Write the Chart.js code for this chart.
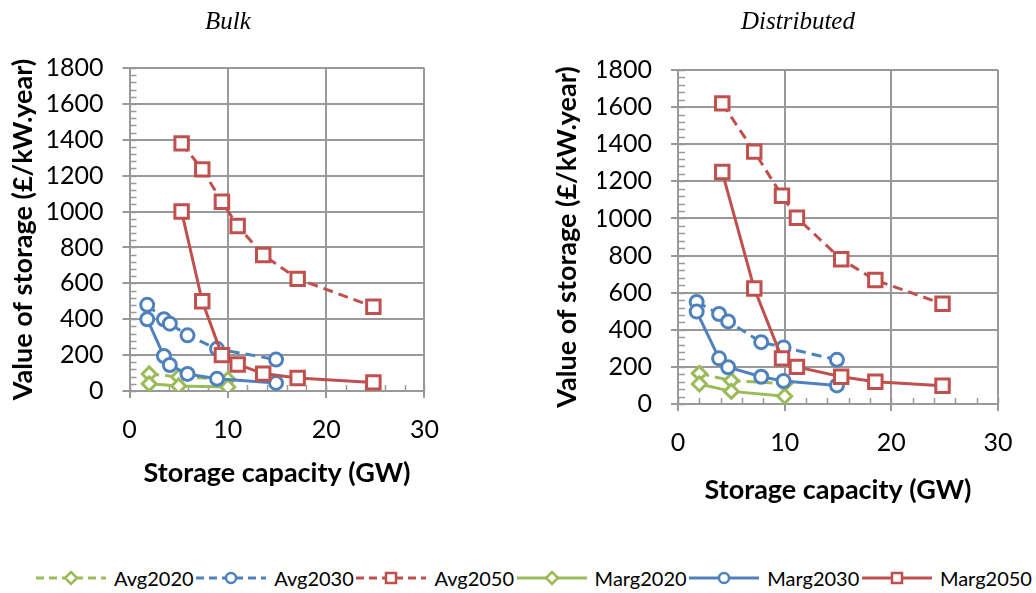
<!DOCTYPE html>
<html>
<head>
<meta charset="utf-8">
<script src="https://cdn.jsdelivr.net/npm/chart.js@4.4.1/dist/chart.umd.min.js"></script>
<style>
  body { margin: 0; background: #fff; width: 1036px; height: 593px; overflow: hidden; position: relative; font-family: Lato, sans-serif; }
  #boxBulk { position: absolute; left: 0; top: 0; width: 456px; height: 500px; }
  #boxDist { position: absolute; left: 540px; top: 0; width: 496px; height: 517px; }
  #legenda { position: absolute; left: 36px; width: 996px; top: 566px; height: 24px; display: flex; justify-content: space-between; align-items: center; font-size: 20px; color: #000; }
  .item { display: flex; align-items: center; }
  .item canvas { margin-right: 8px; }
</style>
</head>
<body>
<div id="boxBulk"><canvas id="graficoBulk"></canvas></div>
<div id="boxDist"><canvas id="graficoDist"></canvas></div>
<div id="legenda"></div>

<script>
// ====== DADOS ======
const seriesNomes = ['Avg2020', 'Avg2030', 'Avg2050', 'Marg2020', 'Marg2030', 'Marg2050'];
const seriesCores = ['#9BBB59', '#4F81BD', '#C0504D', '#9BBB59', '#4F81BD', '#C0504D'];
const seriesTracejada = [true, true, true, false, false, false];
const seriesMarcador = ['rectRot', 'circle', 'rect', 'rectRot', 'circle', 'rect'];

const xTicks = [0, 10, 20, 30];
const yTicks = [0, 200, 400, 600, 800, 1000, 1200, 1400, 1600, 1800];

// Bulk
const bulkCap2020 = [2.0, 5.0, 10.0];
const bulkAvg2020 = [95, 78, 65];
const bulkMarg2020 = [40, 28, 22];
const bulkCap2030 = [1.8, 3.5, 4.1, 5.9, 8.9, 14.9];
const bulkAvg2030 = [480, 400, 375, 310, 235, 175];
const bulkMarg2030 = [400, 195, 145, 95, 68, 45];
const bulkCap2050 = [5.3, 7.4, 9.4, 11.0, 13.6, 17.1, 24.8];
const bulkAvg2050 = [1380, 1235, 1055, 920, 758, 625, 470];
const bulkMarg2050 = [1000, 500, 200, 148, 97, 72, 48];

// Distributed
const distCap2020 = [2.0, 5.0, 10.0];
const distAvg2020 = [165, 126, 110];
const distMarg2020 = [108, 68, 42];
const distCap2030 = [1.75, 3.85, 4.7, 7.8, 9.9, 14.9];
const distAvg2030 = [550, 485, 445, 333, 305, 238];
const distMarg2030 = [498, 246, 198, 147, 124, 100];
const distCap2050 = [4.15, 7.15, 9.75, 11.15, 15.3, 18.5, 24.8];
const distAvg2050 = [1620, 1360, 1122, 1004, 780, 668, 540];
const distMarg2050 = [1250, 622, 246, 200, 147, 120, 98];

const cinza = '#999';
const raioMarcador = { rectRot: 7, circle: 6.5, rect: 9.5 };

// ====== FUNÇÕES ======
function pontos(xs, ys) {
  return xs.map((x, i) => ({ x, y: ys[i] }));
}

function montarDatasets(caps, valores) {
  return seriesNomes.map((nome, i) => ({
    label: nome,
    data: pontos(caps[i], valores[i]),
    showLine: true,
    borderColor: seriesCores[i],
    backgroundColor: '#fff',
    borderWidth: 3,
    borderDash: seriesTracejada[i] ? [10, 6] : [],
    pointStyle: seriesMarcador[i],
    pointRadius: raioMarcador[seriesMarcador[i]],
    pointBorderWidth: 3,
    pointBorderColor: seriesCores[i],
    pointBackgroundColor: '#fff',
    order: 6 - i,
  }));
}

// marcas menores nos eixos (como no Excel)
const minorTicks = {
  id: 'minorTicks',
  beforeDatasetsDraw(chart) {
    const { ctx, chartArea: a, scales: { x, y } } = chart;
    ctx.save();
    ctx.strokeStyle = cinza;
    ctx.lineWidth = 1.5;
    ctx.beginPath();
    for (let v = 0; v <= 1800; v += 40) {
      const py = Math.round(y.getPixelForValue(v)) + 0.5;
      ctx.moveTo(a.left, py);
      ctx.lineTo(a.left + 7, py);
    }
    for (let v = 0; v <= 30; v += 2) {
      const px = Math.round(x.getPixelForValue(v)) + 0.5;
      ctx.moveTo(px, a.bottom);
      ctx.lineTo(px, a.bottom - 6);
    }
    ctx.stroke();
    ctx.restore();
  },
};

function montarGrafico(id, titulo, datasets, cfg) {
  const fonteTick = { family: 'Lato', size: 25 };
  const fonteEixo = { family: 'Lato', size: 27, weight: 'bold' };
  return new Chart(document.getElementById(id), {
    type: 'scatter',
    data: { datasets },
    plugins: [minorTicks],
    options: {
      responsive: true,
      maintainAspectRatio: false,
      animation: false,
      layout: { padding: { left: cfg.padLeft, right: cfg.padRight, top: 0, bottom: 0 } },
      plugins: {
        legend: { display: false },
        tooltip: { enabled: false },
        title: {
          display: true,
          text: titulo,
          color: '#000',
          font: { family: 'Liberation Serif', size: 25, style: 'italic', weight: 'normal' },
          padding: { top: 7, bottom: cfg.titleBottom },
        },
      },
      scales: {
        x: {
          type: 'linear',
          min: 0,
          max: 30,
          afterBuildTicks: s => { s.ticks = xTicks.map(v => ({ value: v })); },
          afterFit: s => { s.height = cfg.xHeight; },
          ticks: { color: '#000', font: fonteTick, padding: 17, maxRotation: 0, callback: v => String(v) },
          grid: { color: cinza, lineWidth: 2, tickLength: 7 },
          border: { color: cinza, width: 2 },
          title: { display: true, text: 'Storage capacity (GW)', color: '#000', font: fonteEixo, padding: { top: 0, bottom: 11 } },
        },
        y: {
          type: 'linear',
          min: 0,
          max: 1800,
          afterBuildTicks: s => { s.ticks = yTicks.map(v => ({ value: v })); },
          afterFit: s => { s.width = cfg.yWidth; },
          ticks: { color: '#000', font: fonteTick, padding: 19, callback: v => String(v) },
          grid: { color: cinza, lineWidth: 2, tickLength: 7 },
          border: { color: cinza, width: 2 },
          title: { display: true, text: 'Value of storage (£/kW.year)', color: '#000', font: fonteEixo, padding: { top: cfg.yTitlePad, bottom: 0 } },
        },
      },
    },
  });
}

// ====== LEGENDA ======
function desenharAmostra(cv, i) {
  const c = cv.getContext('2d');
  const cor = seriesCores[i];
  c.strokeStyle = cor;
  c.lineWidth = 3;
  c.setLineDash(seriesTracejada[i] ? [8, 5] : []);
  c.beginPath();
  c.moveTo(0, 8);
  c.lineTo(70, 8);
  c.stroke();
  c.setLineDash([]);
  c.lineWidth = 2.5;
  c.fillStyle = '#fff';
  c.beginPath();
  const cx = 35, cy = 8;
  if (seriesMarcador[i] === 'rectRot') {
    c.moveTo(cx, cy - 6); c.lineTo(cx + 6, cy); c.lineTo(cx, cy + 6); c.lineTo(cx - 6, cy); c.closePath();
  } else if (seriesMarcador[i] === 'circle') {
    c.arc(cx, cy, 5, 0, Math.PI * 2);
  } else {
    c.rect(cx - 5, cy - 5, 10, 10);
  }
  c.fill();
  c.stroke();
}

const legenda = document.getElementById('legenda');
seriesNomes.forEach((nome, i) => {
  const item = document.createElement('div');
  item.className = 'item';
  const cv = document.createElement('canvas');
  cv.width = 70;
  cv.height = 16;
  desenharAmostra(cv, i);
  const txt = document.createElement('span');
  txt.textContent = nome;
  item.appendChild(cv);
  item.appendChild(txt);
  legenda.appendChild(item);
});

// ====== GRÁFICOS ======
montarGrafico('graficoBulk', 'Bulk',
  montarDatasets(
    [bulkCap2020, bulkCap2030, bulkCap2050, bulkCap2020, bulkCap2030, bulkCap2050],
    [bulkAvg2020, bulkAvg2030, bulkAvg2050, bulkMarg2020, bulkMarg2030, bulkMarg2050]),
  { padLeft: 17, padRight: 17, titleBottom: 31, xHeight: 109, yWidth: 112.5, yTitlePad: -10 });

montarGrafico('graficoDist', 'Distributed',
  montarDatasets(
    [distCap2020, distCap2030, distCap2050, distCap2020, distCap2030, distCap2050],
    [distAvg2020, distAvg2030, distAvg2050, distMarg2020, distMarg2030, distMarg2050]),
  { padLeft: 58, padRight: 38, titleBottom: 33, xHeight: 113, yWidth: 80, yTitlePad: -47 });
</script>
</body>
</html>
